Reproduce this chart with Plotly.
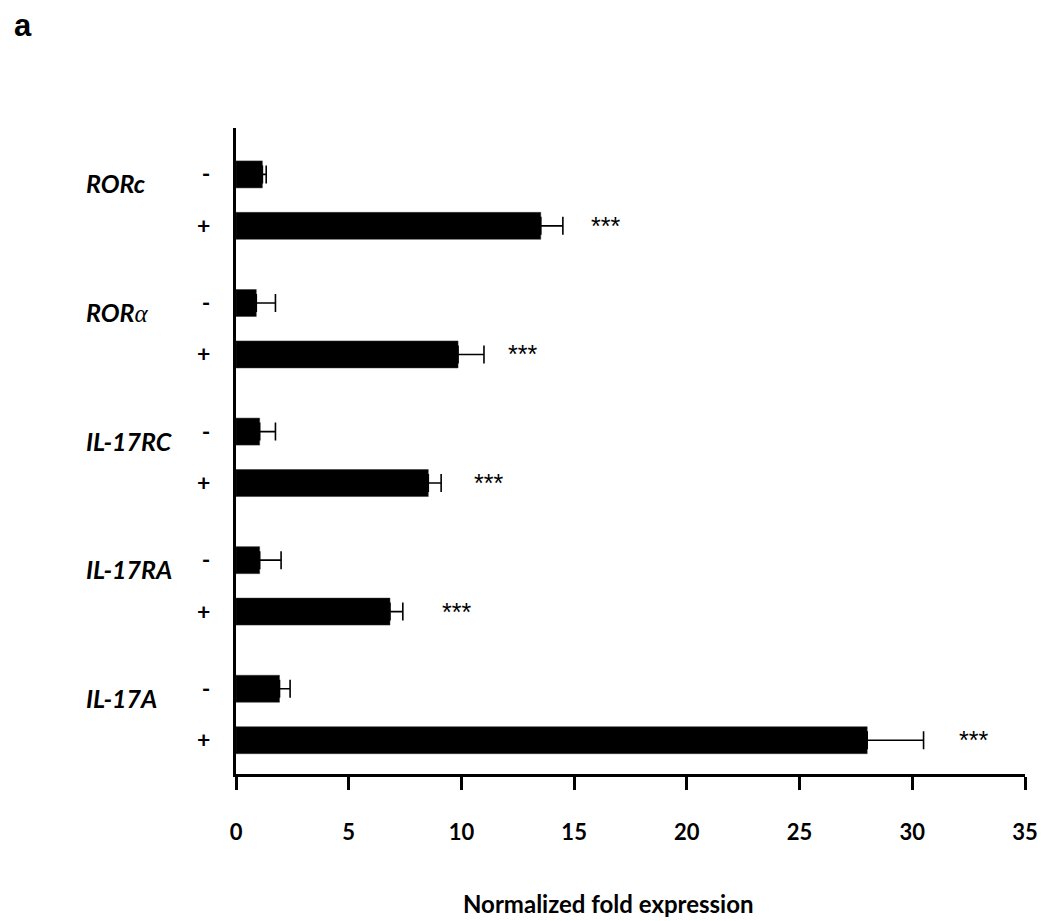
import plotly.graph_objects as go

# data
genes = ["RORc", "RORα", "IL-17RC", "IL-17RA", "IL-17A"]
signs = ["-", "+"]
minus_vals = [1.17, 0.90, 1.05, 1.05, 1.93]
minus_err = [0.17, 0.85, 0.70, 0.95, 0.47]
plus_vals = [13.52, 9.85, 8.53, 6.83, 28.0]
plus_err = [0.98, 1.15, 0.57, 0.57, 2.5]
star_x = [16.4, 12.7, 11.2, 9.8, 32.7]
x_ticks = [0, 5, 10, 15, 20, 25, 30, 35]

# layout of the bar pairs: one unit per gene, -/+ offset around it
off = 0.2
bar_w = 0.21
y_minus = [i - off for i in range(len(genes))]
y_plus = [i + off for i in range(len(genes))]

font_main = "Lato, 'Open Sans', Arial, sans-serif"

fig = go.Figure()
for yv, vals, err in [(y_minus, minus_vals, minus_err), (y_plus, plus_vals, plus_err)]:
    fig.add_trace(go.Bar(
        x=vals, y=yv, orientation="h", width=bar_w,
        marker=dict(color="black", line=dict(color="#333", width=0.5)),
        error_x=dict(type="data", array=err, arrayminus=[0] * len(err), symmetric=False,
                     color="black", thickness=1.6, width=9),
        showlegend=False,
    ))

annos = []
for i, g in enumerate(genes):
    label = g
    if g == "RORα":
        label = "ROR<span style='font-family:\"Liberation Serif\", serif; font-weight:normal'>α</span>"
    annos.append(dict(x=-0.193, xref="paper", y=i - 0.13, yref="y", text="<b><i>" + label + "</i></b>",
                      showarrow=False, xanchor="left", yanchor="middle",
                      font=dict(family=font_main, size=25, color="black")))
    annos.append(dict(x=star_x[i], xref="x", y=y_plus[i], yref="y", text="***",
                      showarrow=False, xanchor="center", yanchor="middle",
                      font=dict(family="Liberation Sans", size=25, color="black")))

annos.append(dict(x=0.472, xref="paper", y=-0.2, yref="paper", text="<b>Normalized fold expression</b>",
                  showarrow=False, xanchor="center", yanchor="middle",
                  font=dict(family=font_main, size=24, color="black")))
annos.append(dict(x=-0.284, xref="paper", y=1.158, yref="paper", text="<b>a</b>",
                  showarrow=False, xanchor="left", yanchor="middle",
                  font=dict(family="Liberation Sans", size=31, color="black")))

fig.update_layout(
    width=1042, height=913,
    margin=dict(l=228, r=14, t=120, b=147),
    plot_bgcolor="white", paper_bgcolor="white",
    annotations=annos,
    xaxis=dict(range=[0, 35], tickvals=x_ticks, showgrid=False, zeroline=False,
               showline=True, linecolor="black", linewidth=3,
               ticks="outside", ticklen=13, tickwidth=2.5, tickcolor="black",
               ticklabelstandoff=24,
               tickfont=dict(family=font_main, size=22, color="black", weight="bold")),
    yaxis=dict(range=[4.463, -0.561], tickvals=y_minus + y_plus,
               ticktext=[signs[0]] * len(genes) + [signs[1]] * len(genes),
               showgrid=False, zeroline=False, showline=True, linecolor="black", linewidth=3,
               ticks="", ticklabelstandoff=18,
               tickfont=dict(family=font_main, size=23, color="black", weight="bold")),
)

fig.write_html("out.html")
